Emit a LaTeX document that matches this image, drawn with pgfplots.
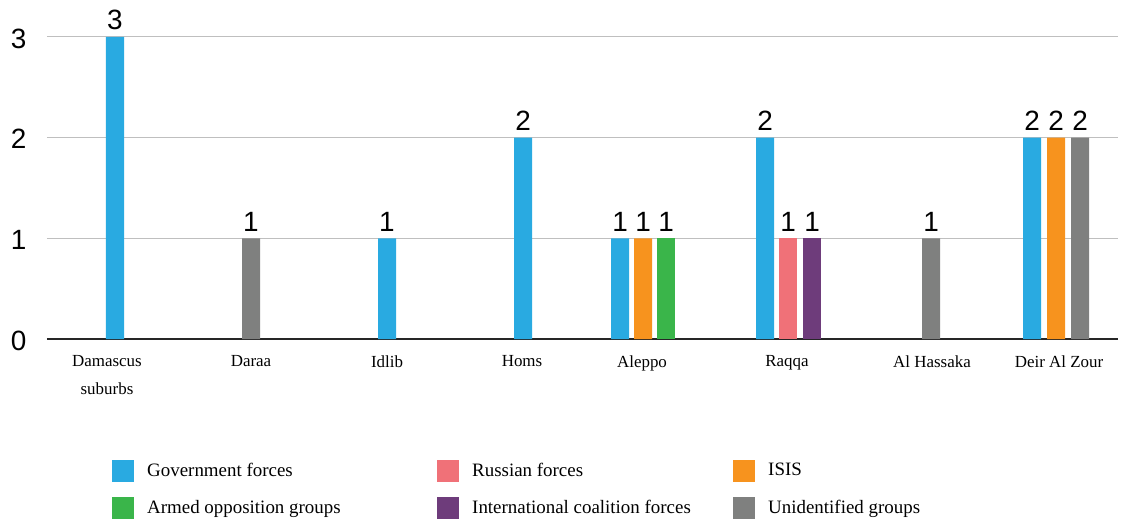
\documentclass[border=0pt]{standalone}
\usepackage{fontspec}
\setmainfont{Liberation Serif}
\newfontfamily\numfont{Liberation Sans}
\usepackage{pgfplots}
\pgfplotsset{compat=1.18}
\definecolor{cgov}{HTML}{29AAE1}
\definecolor{crus}{HTML}{F07178}
\definecolor{cisis}{HTML}{F7931E}
\definecolor{carm}{HTML}{3AB54A}
\definecolor{cint}{HTML}{6E3C7B}
\definecolor{cunk}{HTML}{7F807F}
\begin{document}
\begin{tikzpicture}
\useasboundingbox (-47bp,-182bp) rectangle (1084bp,339bp);
\begin{axis}[
 at={(0,0)}, anchor=south west,
 scale only axis, width=1071bp, height=302bp,
 xmin=47, xmax=1118, ymin=0, ymax=3,
 axis x line*=bottom, axis y line*=left,
 y axis line style={draw=none},
 x axis line style={draw=black!85, line width=1.6bp, -},
 ymajorgrids, grid style={draw=black!25, line width=1bp},
 major tick length=0pt,
 ytick={0,1,2,3},
 xtick={107,251,387,522,642,787,932,1059},
 xticklabels={{Damascus\\suburbs},Daraa,Idlib,Homs,Aleppo,Raqqa,Al Hassaka,Deir Al Zour},
 xticklabel style={align=center, font=\fontsize{17}{28}\selectfont, yshift=-13bp},
 yticklabel style={font=\numfont\fontsize{28}{30}\selectfont, xshift=-17bp, yshift=-1.5bp},
 /pgf/number format/assume math mode=true,
 nodes near coords,
 nodes near coords style={font=\numfont\fontsize{28}{30}\selectfont, inner sep=1bp, yshift=6bp, text=black, anchor=south},
 clip=false,
 legend columns=3,
 legend style={at={(axis cs:112,-1.202)}, anchor=north west, draw=none, fill=none, inner sep=0pt,
   font=\fontsize{19}{21}\selectfont, nodes={inner sep=2bp},
   /tikz/every odd column/.append style={column sep=11bp}, /tikz/row sep=15bp},
 legend image code/.code={\fill[#1] (0bp,-12bp) rectangle (22bp,10bp);},
]
\addplot[ybar, bar shift=0pt, bar width=18, fill=cgov, draw=none]
  coordinates {(115,3) (387,1) (523,2) (620,1) (765,2) (1032,2)};
\addlegendentry{\makebox[288bp][l]{Government forces}}
\addplot[ybar, bar shift=0pt, bar width=18, fill=crus, draw=none]
  coordinates {(788,1)};
\addlegendentry{\makebox[259bp][l]{Russian forces}}
\addplot[ybar, bar shift=0pt, bar width=18, fill=cisis, draw=none]
  coordinates {(643,1) (1056,2)};
\addlegendentry{\makebox[180bp][l]{ISIS}}
\addplot[ybar, bar shift=0pt, bar width=18, fill=carm, draw=none]
  coordinates {(666,1)};
\addlegendentry{\makebox[288bp][l]{Armed opposition groups}}
\addplot[ybar, bar shift=0pt, bar width=18, fill=cint, draw=none]
  coordinates {(812,1)};
\addlegendentry{\makebox[259bp][l]{International coalition forces}}
\addplot[ybar, bar shift=0pt, bar width=18, fill=cunk, draw=none]
  coordinates {(251,1) (931,1) (1080,2)};
\addlegendentry{\makebox[180bp][l]{Unidentified groups}}
\end{axis}
\end{tikzpicture}
\end{document}
